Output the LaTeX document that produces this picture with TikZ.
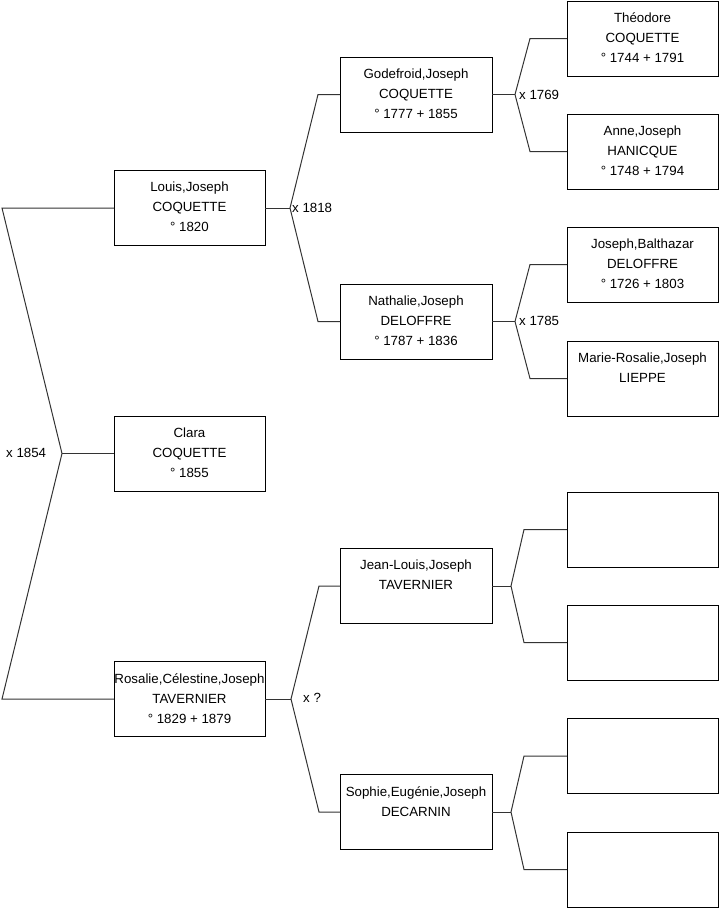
\documentclass[tikz,border=0pt]{standalone}
\usepackage{fontspec}
\setmainfont{Liberation Sans}
\begin{document}
\begin{tikzpicture}[x=1pt,y=-1pt,
  box/.style={draw=black,line width=1pt,rectangle,minimum width=151pt,minimum height=75pt,inner sep=0pt,outer sep=0pt},
  txt/.style={anchor=north,inner sep=0pt,align=center,font=\fontsize{13.3}{20}\selectfont,execute at begin node=\strut},
  lab/.style={anchor=west,inner sep=0pt,font=\fontsize{13.3}{16}\selectfont},
  con/.style={draw=black!80,line width=1pt}]
\useasboundingbox (0,0) rectangle (719,908);
% generation 1
\node[box] (louis) at (189.5,208) {};
\node[txt] (louist) at ([yshift=-11.5pt]louis.north) {Louis,Joseph\\COQUETTE\\° 1820};
\node[box] (clara) at (189.5,453.5) {};
\node[txt] (clarat) at ([yshift=-11.5pt]clara.north) {Clara\\COQUETTE\\° 1855};
\node[box] (rosalie) at (189.5,699) {};
\node[txt] (rosaliet) at ([yshift=-11.5pt]rosalie.north) {Rosalie,Célestine,Joseph\\TAVERNIER\\° 1829 + 1879};
% generation 2
\node[box,minimum width=152pt] (godefroid) at (416,94.5) {};
\node[txt] (godefroidt) at ([yshift=-11.5pt]godefroid.north) {Godefroid,Joseph\\COQUETTE\\° 1777 + 1855};
\node[box,minimum width=152pt] (nathalie) at (416,321.5) {};
\node[txt] (nathaliet) at ([yshift=-11.5pt]nathalie.north) {Nathalie,Joseph\\DELOFFRE\\° 1787 + 1836};
\node[box,minimum width=152pt] (jeanlouis) at (416,586) {};
\node[txt] (jeanlouist) at ([yshift=-11.5pt]jeanlouis.north) {Jean-Louis,Joseph\\TAVERNIER};
\node[box,minimum width=152pt] (sophie) at (416,812) {};
\node[txt] (sophiet) at ([yshift=-11.5pt]sophie.north) {Sophie,Eugénie,Joseph\\DECARNIN};
% generation 3
\node[box] (theodore) at (642.5,38.5) {};
\node[txt] (theodoret) at ([yshift=-11.5pt]theodore.north) {Théodore\\COQUETTE\\° 1744 + 1791};
\node[box] (anne) at (642.5,151.5) {};
\node[txt] (annet) at ([yshift=-11.5pt]anne.north) {Anne,Joseph\\HANICQUE\\° 1748 + 1794};
\node[box] (balthazar) at (642.5,264.5) {};
\node[txt] (balthazart) at ([yshift=-11.5pt]balthazar.north) {Joseph,Balthazar\\DELOFFRE\\° 1726 + 1803};
\node[box] (marie) at (642.5,378.5) {};
\node[txt] (mariet) at ([yshift=-11.5pt]marie.north) {Marie-Rosalie,Joseph\\LIEPPE};
\node[box] (e1) at (642.5,529.5) {};
\node[box] (e2) at (642.5,642.5) {};
\node[box] (e3) at (642.5,756) {};
\node[box] (e4) at (642.5,869.5) {};
% root connectors
\coordinate (r) at (62,453.5);
\coordinate (rt) at (2,208);
\coordinate (rb) at (2,699);
\draw[con] (louis.west) -- (rt) -- (r) -- (rb) -- (rosalie.west);
\draw[con] (r) -- (clara.west);
\node[lab] (m1854) at (6,453) {x 1854};
% Louis
\coordinate (j1) at (290,208);
\coordinate (j1a) at (318,94.5);
\coordinate (j1b) at (318,321.5);
\draw[con] (louis.east) -- (j1);
\draw[con] (godefroid.west) -- (j1a) -- (j1) -- (j1b) -- (nathalie.west);
\node[lab] (m1818) at (292,208) {x 1818};
% Rosalie
\coordinate (j2) at (291,699);
\coordinate (j2a) at (319,586);
\coordinate (j2b) at (319,812);
\draw[con] (rosalie.east) -- (j2);
\draw[con] (jeanlouis.west) -- (j2a) -- (j2) -- (j2b) -- (sophie.west);
\node[lab] (mq) at (303,698) {x ?};
% Godefroid
\coordinate (j3) at (515,94.5);
\coordinate (j3a) at (530,38.5);
\coordinate (j3b) at (530,151.5);
\draw[con] (godefroid.east) -- (j3);
\draw[con] (theodore.west) -- (j3a) -- (j3) -- (j3b) -- (anne.west);
\node[lab] (m1769) at (519,95) {x 1769};
% Nathalie
\coordinate (j4) at (515,321.5);
\coordinate (j4a) at (530,264.5);
\coordinate (j4b) at (530,378.5);
\draw[con] (nathalie.east) -- (j4);
\draw[con] (balthazar.west) -- (j4a) -- (j4) -- (j4b) -- (marie.west);
\node[lab] (m1785) at (519,321) {x 1785};
% Jean-Louis
\coordinate (j5) at (511,586);
\coordinate (j5a) at (524,529.5);
\coordinate (j5b) at (524,642.5);
\draw[con] (jeanlouis.east) -- (j5);
\draw[con] (e1.west) -- (j5a) -- (j5) -- (j5b) -- (e2.west);
% Sophie
\coordinate (j6) at (511,812);
\coordinate (j6a) at (524,756);
\coordinate (j6b) at (524,869.5);
\draw[con] (sophie.east) -- (j6);
\draw[con] (e3.west) -- (j6a) -- (j6) -- (j6b) -- (e4.west);
\end{tikzpicture}
\end{document}
